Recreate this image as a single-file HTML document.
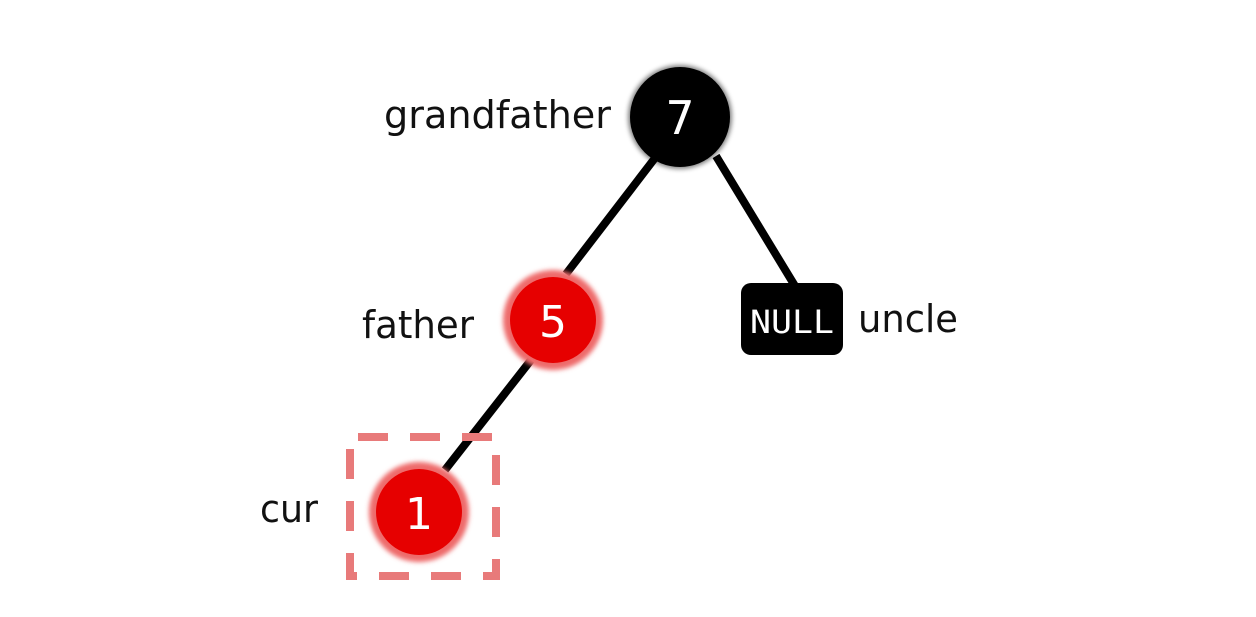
<!DOCTYPE html>
<html><head><style>
html,body{margin:0;padding:0;background:#fff;}
</style></head><body>
<svg width="1256" height="612" viewBox="0 0 1256 612" xmlns="http://www.w3.org/2000/svg">
<defs>
<filter id="g" x="-50%" y="-50%" width="200%" height="200%"><feGaussianBlur stdDeviation="2.5"/></filter>
</defs>
<rect width="1256" height="612" fill="#fff"/>
<g stroke="#000" stroke-width="8" stroke-linecap="butt">
<line x1="655" y1="158" x2="566" y2="274"/>
<line x1="716" y1="156" x2="795" y2="286"/>
<line x1="531" y1="360" x2="445" y2="470"/>
</g>
<rect x="350" y="437" width="146" height="139" fill="none" stroke="#e87a7a" stroke-width="8" stroke-dasharray="30,22" stroke-dashoffset="-8"/>
<circle cx="680" cy="117" r="52" fill="#000" opacity="0.5" filter="url(#g)"/>
<circle cx="680" cy="117" r="50" fill="#000"/>
<circle cx="553" cy="320" r="50" fill="#ee6a6a" filter="url(#g)"/>
<circle cx="553" cy="320" r="43" fill="#e60000"/>
<circle cx="419" cy="512" r="50" fill="#ee6a6a" filter="url(#g)"/>
<circle cx="419" cy="512" r="43" fill="#e60000"/>
<rect x="741" y="283" width="102" height="72" rx="10" fill="#000"/>
<g font-family="'DejaVu Sans','Liberation Sans',sans-serif" fill="#fff" text-anchor="middle">
<text x="680" y="134" font-size="46">7</text>
<text x="553" y="337" font-size="44">5</text>
<text x="419" y="529" font-size="44">1</text>
<text x="792" y="333" font-size="32" font-family="'DejaVu Sans Mono','Liberation Mono',monospace" textLength="84" lengthAdjust="spacingAndGlyphs">NULL</text>
</g>
<g font-family="'DejaVu Sans','Liberation Sans',sans-serif" fill="#111" font-size="38">
<text x="384" y="128" textLength="227" lengthAdjust="spacingAndGlyphs">grandfather</text>
<text x="362" y="338" textLength="112" lengthAdjust="spacingAndGlyphs">father</text>
<text x="858" y="332" textLength="100" lengthAdjust="spacingAndGlyphs">uncle</text>
<text x="260" y="522" textLength="58" lengthAdjust="spacingAndGlyphs">cur</text>
</g>
</svg>
</body></html>
